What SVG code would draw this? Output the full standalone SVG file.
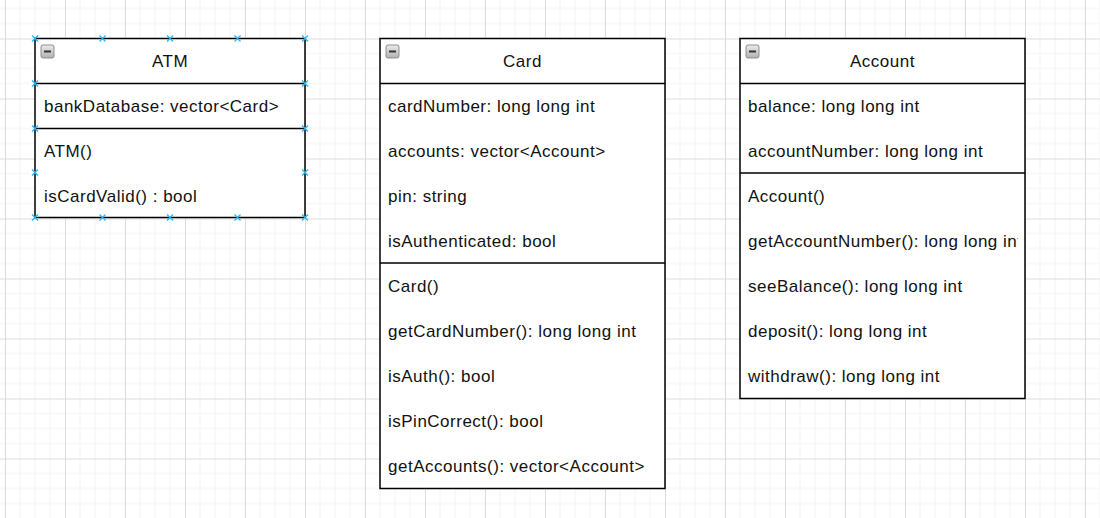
<svg xmlns="http://www.w3.org/2000/svg" width="1100" height="518" viewBox="0 0 1100 518">
<defs>
<style>
.box{fill:#fff;stroke:#000;stroke-width:1.5}
.div{stroke:#000;stroke-width:1.5}
.t{font-family:"Liberation Sans",Arial,Helvetica,sans-serif;font-size:17px;letter-spacing:0.5px;fill:#111}
.h{text-anchor:middle}
.sel{stroke:#29b6f2;stroke-width:1.3;fill:none}
</style>
<pattern id="grid" patternUnits="userSpaceOnUse" x="5" y="-21.5" width="60" height="60">
<path d="M15 0V60M30 0V60M45 0V60M0 15H60M0 30H60M0 45H60" stroke="#f3f3f3" stroke-width="1" fill="none"/>
<path d="M0.5 0V60M0 0.5H60" stroke="#dcdcdc" stroke-width="1" fill="none"/>
</pattern>
<linearGradient id="ig" x1="0" y1="0" x2="0" y2="1">
<stop offset="0" stop-color="#ececec"/>
<stop offset="1" stop-color="#b0b0b0"/>
</linearGradient>
<g id="icon">
<rect x="0.5" y="0.5" width="13" height="13" rx="2" fill="url(#ig)" stroke="#8f8f8f" stroke-width="1"/>
<path d="M3.5 7H10.5" stroke="#333" stroke-width="2"/>
</g>
<path id="x" d="M-3 -3L3 3M-3 3L3 -3"/>
<clipPath id="accClip"><rect x="740" y="38" width="278" height="360"/></clipPath>
</defs>
<rect width="1100" height="518" fill="#fff"/>
<rect width="1100" height="518" fill="url(#grid)"/>

<g id="connectors"></g>

<g id="node-atm">
<rect class="box" x="35" y="38.5" width="270" height="179"/>
<line class="div" x1="35" y1="83.5" x2="305" y2="83.5"/>
<line class="div" x1="35" y1="128.5" x2="305" y2="128.5"/>
<use href="#icon" x="40.5" y="44.5"/>
<text class="t h" x="170" y="67">ATM</text>
<text class="t" x="44" y="112">bankDatabase: vector&lt;Card&gt;</text>
<text class="t" x="44" y="157">ATM()</text>
<text class="t" x="44" y="202">isCardValid() : bool</text>
<g class="sel">
<use href="#x" x="35" y="38.5"/><use href="#x" x="102.5" y="38.5"/><use href="#x" x="170" y="38.5"/><use href="#x" x="237.5" y="38.5"/><use href="#x" x="305" y="38.5"/>
<use href="#x" x="35" y="217.5"/><use href="#x" x="102.5" y="217.5"/><use href="#x" x="170" y="217.5"/><use href="#x" x="237.5" y="217.5"/><use href="#x" x="305" y="217.5"/>
<use href="#x" x="35" y="83.5"/><use href="#x" x="35" y="128.5"/><use href="#x" x="35" y="172.5"/>
<use href="#x" x="305" y="83.5"/><use href="#x" x="305" y="128.5"/><use href="#x" x="305" y="172.5"/>
</g>
</g>

<g id="node-card">
<rect class="box" x="380" y="38.5" width="285" height="450"/>
<line class="div" x1="380" y1="83.5" x2="665" y2="83.5"/>
<line class="div" x1="380" y1="263" x2="665" y2="263"/>
<use href="#icon" x="385.5" y="44.5"/>
<text class="t h" x="522.5" y="67">Card</text>
<text class="t" x="388" y="112">cardNumber: long long int</text>
<text class="t" x="388" y="157">accounts: vector&lt;Account&gt;</text>
<text class="t" x="388" y="202">pin: string</text>
<text class="t" x="388" y="247">isAuthenticated: bool</text>
<text class="t" x="388" y="292">Card()</text>
<text class="t" x="388" y="337">getCardNumber(): long long int</text>
<text class="t" x="388" y="382">isAuth(): bool</text>
<text class="t" x="388" y="427">isPinCorrect(): bool</text>
<text class="t" x="388" y="472">getAccounts(): vector&lt;Account&gt;</text>
</g>

<g id="node-account">
<rect class="box" x="740" y="38.5" width="285" height="360"/>
<line class="div" x1="740" y1="83.5" x2="1025" y2="83.5"/>
<line class="div" x1="740" y1="173" x2="1025" y2="173"/>
<use href="#icon" x="745.5" y="44.5"/>
<text class="t h" x="882.5" y="67">Account</text>
<g clip-path="url(#accClip)">
<text class="t" x="748" y="112">balance: long long int</text>
<text class="t" x="748" y="157">accountNumber: long long int</text>
<text class="t" x="748" y="202">Account()</text>
<text class="t" x="748" y="247">getAccountNumber(): long long int</text>
<text class="t" x="748" y="292">seeBalance(): long long int</text>
<text class="t" x="748" y="337">deposit(): long long int</text>
<text class="t" x="748" y="382">withdraw(): long long int</text>
</g>
</g>
</svg>
